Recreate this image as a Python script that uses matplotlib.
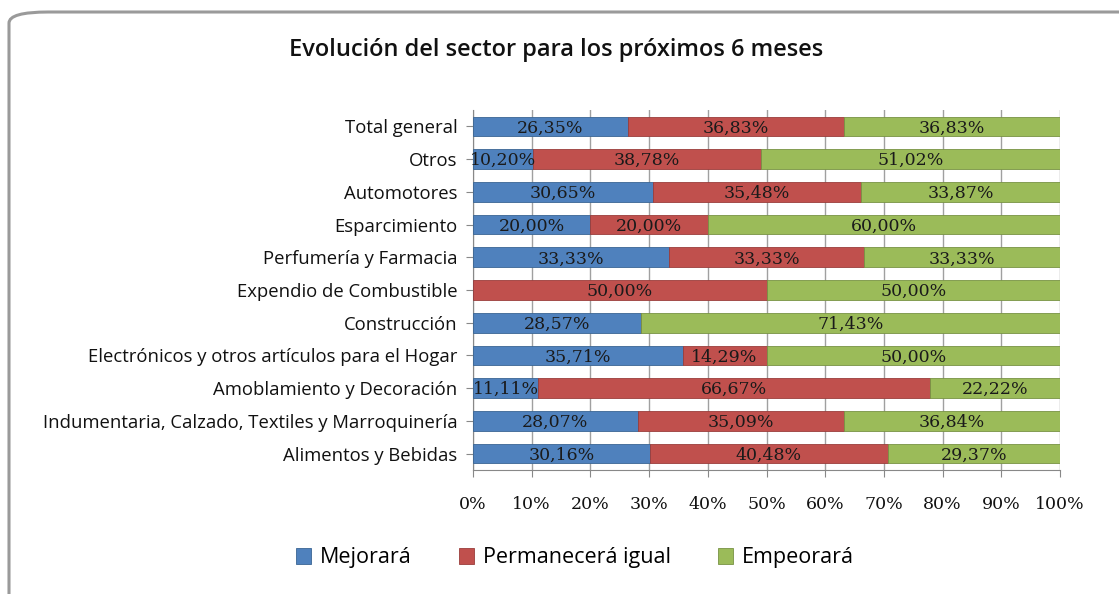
import matplotlib.pyplot as plt
from matplotlib.patches import FancyBboxPatch
import numpy as np

# --- DATA (top row first, as in the reference) ---
categories = [
    'Total general',
    'Otros',
    'Automotores',
    'Esparcimiento',
    'Perfumería y Farmacia',
    'Expendio de Combustible',
    'Construcción',
    'Electrónicos y otros artículos para el Hogar',
    'Amoblamiento y Decoración',
    'Indumentaria, Calzado, Textiles y Marroquinería',
    'Alimentos y Bebidas',
]
mejorara = [26.35, 10.20, 30.65, 20.00, 33.33, 0.00, 28.57, 35.71, 11.11, 28.07, 30.16]
permanecera = [36.83, 38.78, 35.48, 20.00, 33.33, 50.00, 0.00, 14.29, 66.67, 35.09, 40.48]
empeorara = [36.83, 51.02, 33.87, 60.00, 33.33, 50.00, 71.43, 50.00, 22.22, 36.84, 29.37]
series_names = ['Mejorará', 'Permanecerá igual', 'Empeorará']
x_ticks = [0, 10, 20, 30, 40, 50, 60, 70, 80, 90, 100]

colors = ['#4F81BD', '#C0504D', '#9BBB59']
edge_colors = ['#3A6594', '#9A3D3B', '#789344']

fig = plt.figure(figsize=(11.19, 5.94), dpi=100)

# rounded chart border (runs off the right/bottom edge like the screenshot)
border = FancyBboxPatch((9 / 1119, -0.2), 1.2, 1.2 - 12 / 594,
                        boxstyle='round,pad=0,rounding_size=0.035',
                        transform=fig.transFigure, facecolor='none',
                        edgecolor='#9A9A9A', linewidth=2.2, zorder=-1,
                        mutation_aspect=594 / 1119)
fig.patches.append(border)

ax = fig.add_axes([473 / 1119, 1 - 470 / 594, 587 / 1119, 360 / 594])
ax.set_facecolor('none')

y = np.arange(len(categories))[::-1]
data = [mejorara, permanecera, empeorara]
left = np.zeros(len(categories))
for vals, name, c, ec in zip(data, series_names, colors, edge_colors):
    vals = np.array(vals)
    ax.barh(y, vals, left=left, height=0.6, color=c, edgecolor=ec,
            linewidth=0.6, label=name, zorder=3)
    for yi, l, v in zip(y, left, vals):
        if v > 0:
            ax.text(l + v / 2, yi - 0.05, f'{v:.2f}%'.replace('.', ','),
                    ha='center', va='center', fontsize=12.5,
                    family='DejaVu Serif', color='#1a1a1a', zorder=4)
    left += vals

ax.set_xlim(0, 100)
ax.set_ylim(-0.5, len(categories) - 0.5)
ax.set_yticks(y)
ax.set_yticklabels(categories, family='Open Sans', fontsize=13.3, color='#111111')
ax.set_xticks(x_ticks)
ax.set_xticklabels([f'{t}%' for t in x_ticks], family='DejaVu Serif',
                   fontsize=12.5, color='#111111')
ax.tick_params(axis='x', length=5, pad=14, color='#888888')
ax.tick_params(axis='y', length=5, pad=6, color='#888888')
ax.grid(axis='x', color='#A0A0A0', linewidth=1.0, zorder=0)
for s in ['top', 'right']:
    ax.spines[s].set_visible(False)
ax.spines['left'].set_color('#888888')
ax.spines['bottom'].set_color('#888888')

fig.text(0.5 * (287 + 826) / 1119, 1 - 50 / 594,
         'Evolución del sector para los próximos 6 meses',
         ha='center', va='center', fontsize=17, family='Open Sans',
         weight='semibold', color='#111111')

fig.legend(loc='center', bbox_to_anchor=(0.514, 1 - 558 / 594), ncol=3,
           frameon=False, prop={'family': 'Open Sans', 'size': 15.5},
           handlelength=0.7, handleheight=0.7, handletextpad=0.4,
           columnspacing=2.2)

fig.savefig('out.png', dpi=100)
